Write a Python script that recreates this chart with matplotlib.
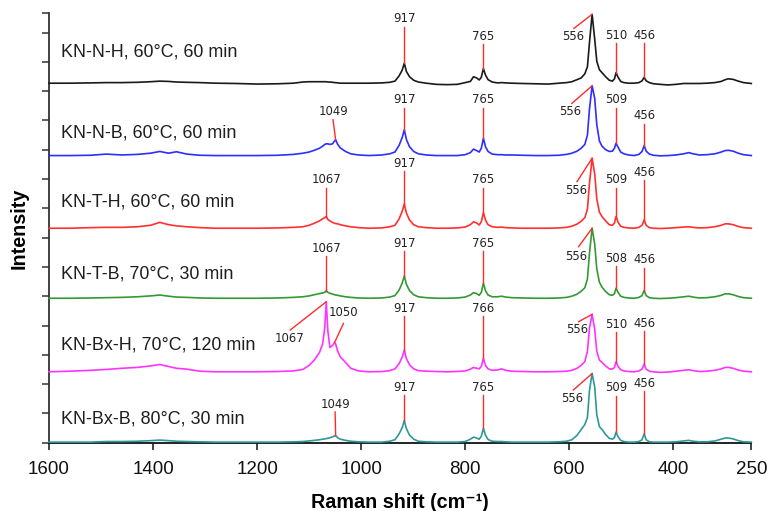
import numpy as np
import matplotlib
matplotlib.use("Agg")
import matplotlib.pyplot as plt

# Raman shift grid (cm-1)
shift = [1600, 1560, 1520, 1490, 1460, 1430, 1405, 1387, 1370, 1355,
         1335, 1310, 1280, 1240, 1200, 1160, 1130, 1112, 1100, 1090,
         1080, 1074, 1070, 1067, 1064, 1060, 1055, 1051, 1049, 1045,
         1040, 1030, 1020, 1005, 985, 960, 945, 935, 927, 921,
         917, 913, 907, 899, 890, 875, 855, 835, 815, 800,
         790, 784, 778, 773, 769, 765, 761, 756, 748, 738,
         730, 722, 710, 690, 665, 640, 620, 605, 595, 585,
         577, 570, 565, 561, 556, 551, 547, 542, 537, 530,
         523, 517, 513, 510, 506, 501, 495, 486, 475, 466,
         460, 456, 452, 446, 438, 425, 410, 395, 380, 370,
         362, 350, 335, 320, 308, 300, 294, 285, 275, 265,
         250]

# intensities relative to each spectrum's own baseline
kn_n_h = [0.00, 0.00, 0.01, 0.02, 0.02, 0.03, 0.05, 0.07, 0.06, 0.04,
          0.03, 0.02, 0.00, -0.01, -0.03, -0.02, 0.00, 0.04, 0.05, 0.05,
          0.05, 0.05, 0.05, 0.05, 0.04, 0.04, 0.03, 0.02, 0.02, 0.01,
          0.00, 0.00, 0.00, 0.00, 0.00, 0.01, 0.03, 0.07, 0.25, 0.45,
          0.68, 0.40, 0.22, 0.10, 0.04, 0.00, -0.04, -0.05, -0.04, 0.02,
          0.06, 0.22, 0.18, 0.11, 0.20, 0.50, 0.28, 0.12, 0.04, 0.01,
          0.02, 0.01, 0.00, -0.01, -0.02, -0.03, 0.00, 0.02, 0.05, 0.12,
          0.18, 0.32, 0.56, 1.40, 2.35, 1.50, 0.75, 0.46, 0.36, 0.22,
          0.10, 0.07, 0.15, 0.36, 0.20, 0.06, 0.02, 0.00, 0.00, 0.02,
          0.08, 0.20, 0.08, 0.02, -0.02, -0.04, -0.06, -0.04, -0.01, -0.01,
          -0.01, -0.01, 0.00, 0.02, 0.06, 0.12, 0.15, 0.13, 0.07, 0.02,
          -0.01]

kn_n_b = [0.00, 0.00, 0.01, 0.05, 0.02, 0.04, 0.08, 0.14, 0.08, 0.13,
          0.05, 0.01, 0.00, 0.00, 0.00, 0.01, 0.04, 0.08, 0.12, 0.18,
          0.25, 0.32, 0.38, 0.40, 0.40, 0.38, 0.40, 0.50, 0.54, 0.38,
          0.26, 0.14, 0.06, 0.02, 0.00, 0.02, 0.06, 0.12, 0.35, 0.62,
          0.88, 0.55, 0.30, 0.14, 0.06, 0.02, 0.00, 0.00, 0.00, 0.03,
          0.10, 0.22, 0.17, 0.12, 0.25, 0.59, 0.30, 0.14, 0.05, 0.03,
          0.03, 0.02, 0.02, 0.01, 0.00, 0.00, 0.01, 0.04, 0.08, 0.15,
          0.25, 0.38, 0.70, 1.60, 2.38, 1.95, 1.05, 0.50, 0.32, 0.20,
          0.14, 0.15, 0.25, 0.42, 0.28, 0.12, 0.06, 0.02, 0.00, 0.04,
          0.14, 0.34, 0.15, 0.05, 0.01, -0.01, 0.00, 0.02, 0.06, 0.10,
          0.06, 0.02, 0.03, 0.06, 0.12, 0.17, 0.18, 0.15, 0.08, 0.03,
          0.00]

kn_t_h = [0.00, 0.00, 0.02, 0.03, 0.03, 0.05, 0.10, 0.20, 0.12, 0.08,
          0.05, 0.02, 0.00, 0.00, 0.00, 0.01, 0.03, 0.05, 0.10, 0.17,
          0.25, 0.32, 0.36, 0.40, 0.30, 0.25, 0.20, 0.17, 0.16, 0.15,
          0.12, 0.08, 0.05, 0.02, 0.00, 0.01, 0.05, 0.10, 0.32, 0.58,
          0.83, 0.52, 0.28, 0.12, 0.05, 0.02, 0.00, 0.00, 0.01, 0.04,
          0.12, 0.22, 0.18, 0.11, 0.22, 0.53, 0.28, 0.12, 0.05, 0.03,
          0.04, 0.02, 0.01, 0.00, 0.00, 0.00, 0.01, 0.03, 0.07, 0.14,
          0.24, 0.36, 0.65, 1.55, 2.39, 1.85, 1.00, 0.55, 0.40, 0.25,
          0.12, 0.10, 0.18, 0.40, 0.20, 0.07, 0.03, 0.01, 0.00, 0.03,
          0.10, 0.28, 0.10, 0.02, 0.00, -0.01, 0.00, 0.02, 0.04, 0.05,
          0.03, 0.01, 0.02, 0.05, 0.10, 0.15, 0.15, 0.12, 0.06, 0.02,
          0.00]

kn_t_b = [0.00, 0.00, 0.01, 0.02, 0.03, 0.05, 0.08, 0.11, 0.07, 0.04,
          0.03, 0.01, 0.00, 0.00, 0.00, 0.01, 0.03, 0.05, 0.08, 0.12,
          0.16, 0.18, 0.20, 0.26, 0.20, 0.17, 0.14, 0.12, 0.11, 0.10,
          0.08, 0.05, 0.03, 0.01, 0.00, 0.01, 0.04, 0.09, 0.28, 0.52,
          0.76, 0.48, 0.26, 0.12, 0.05, 0.02, 0.00, 0.00, 0.01, 0.04,
          0.11, 0.19, 0.16, 0.10, 0.20, 0.51, 0.26, 0.11, 0.05, 0.05,
          0.07, 0.04, 0.02, 0.01, 0.00, 0.00, 0.01, 0.03, 0.07, 0.14,
          0.24, 0.36, 0.66, 1.55, 2.39, 1.85, 1.00, 0.55, 0.38, 0.23,
          0.12, 0.10, 0.16, 0.34, 0.20, 0.07, 0.03, 0.01, 0.00, 0.03,
          0.09, 0.26, 0.09, 0.02, 0.00, -0.01, 0.00, 0.02, 0.05, 0.07,
          0.04, 0.01, 0.02, 0.05, 0.10, 0.15, 0.15, 0.12, 0.06, 0.02,
          0.00]

kn_bx_h = [0.00, 0.02, 0.05, 0.08, 0.12, 0.15, 0.20, 0.25, 0.18, 0.12,
           0.09, 0.02, 0.00, 0.00, 0.00, 0.01, 0.03, 0.08, 0.22, 0.40,
           0.66, 0.95, 1.50, 2.39, 1.40, 0.83, 0.90, 1.00, 0.95, 0.70,
           0.51, 0.32, 0.12, 0.03, 0.00, 0.01, 0.04, 0.10, 0.28, 0.50,
           0.74, 0.45, 0.24, 0.10, 0.04, 0.02, 0.01, 0.00, 0.01, 0.03,
           0.09, 0.15, 0.12, 0.10, 0.18, 0.46, 0.22, 0.10, 0.05, 0.06,
           0.10, 0.05, 0.02, 0.01, 0.00, 0.00, 0.01, 0.02, 0.05, 0.12,
           0.22, 0.35, 0.70, 1.50, 1.96, 1.45, 0.70, 0.40, 0.32, 0.20,
           0.10, 0.09, 0.15, 0.34, 0.18, 0.07, 0.03, 0.01, 0.00, 0.03,
           0.09, 0.26, 0.09, 0.02, 0.00, -0.02, -0.01, 0.02, 0.05, 0.07,
           0.04, 0.01, 0.02, 0.05, 0.10, 0.15, 0.15, 0.12, 0.06, 0.02,
           0.00]

kn_bx_b = [0.02, 0.02, 0.02, 0.04, 0.04, 0.05, 0.07, 0.09, 0.07, 0.05,
           0.04, 0.03, 0.02, 0.02, 0.02, 0.02, 0.03, 0.04, 0.06, 0.08,
           0.10, 0.12, 0.13, 0.14, 0.15, 0.17, 0.20, 0.23, 0.24, 0.17,
           0.12, 0.08, 0.05, 0.03, 0.02, 0.02, 0.05, 0.10, 0.30, 0.52,
           0.75, 0.48, 0.26, 0.12, 0.05, 0.03, 0.02, 0.02, 0.02, 0.04,
           0.12, 0.19, 0.16, 0.12, 0.22, 0.49, 0.26, 0.11, 0.05, 0.04,
           0.04, 0.03, 0.02, 0.02, 0.02, 0.02, 0.03, 0.05, 0.10, 0.25,
           0.45, 0.62, 0.86, 1.80, 2.36, 1.90, 0.95, 0.55, 0.45, 0.28,
           0.15, 0.12, 0.18, 0.36, 0.20, 0.08, 0.04, 0.02, 0.02, 0.04,
           0.10, 0.30, 0.10, 0.03, 0.02, 0.02, 0.02, 0.03, 0.06, 0.08,
           0.05, 0.03, 0.03, 0.06, 0.12, 0.16, 0.16, 0.13, 0.07, 0.03,
           0.02]

sample_names = ["KN-N-H, 60°C, 60 min", "KN-N-B, 60°C, 60 min",
                "KN-T-H, 60°C, 60 min", "KN-T-B, 70°C, 30 min",
                "KN-Bx-H, 70°C, 120 min", "KN-Bx-B, 80°C, 30 min"]
spectra = [kn_n_h, kn_n_b, kn_t_h, kn_t_b, kn_bx_h, kn_bx_b]

# peak annotations: (peak position, label text)
peaks_n_h = [(917, "917"), (765, "765"), (556, "556"), (510, "510"), (456, "456")]
peaks_n_b = [(1049, "1049"), (917, "917"), (765, "765"), (556, "556"), (510, "509"), (456, "456")]
peaks_t_h = [(1067, "1067"), (917, "917"), (765, "765"), (556, "556"), (510, "509"), (456, "456")]
peaks_t_b = [(1067, "1067"), (917, "917"), (765, "765"), (556, "556"), (510, "508"), (456, "456")]
peaks_bx_h = [(1067, "1067"), (1051, "1050"), (917, "917"), (765, "766"), (556, "556"), (510, "510"), (456, "456")]
peaks_bx_b = [(1049, "1049"), (917, "917"), (765, "765"), (556, "556"), (510, "509"), (456, "456")]
peak_sets = [peaks_n_h, peaks_n_b, peaks_t_h, peaks_t_b, peaks_bx_h, peaks_bx_b]

# layout (positions) ---------------------------------------------------
offsets = [12.27, 9.80, 7.32, 4.93, 2.42, 0.0]
colors = ["#1a1a1a", "#2e2eff", "#ff3030", "#339933", "#ff33ff", "#2e9898"]
name_y = [1.05, 0.77, 0.90, 0.82, 0.91, 0.80]
# label placement per peak: (label x, label y above baseline, line start x, line start y)
label_pos = [
    [(917, 2.22, 917, 1.91), (765, 1.61, 765, 1.34), (592, 1.61, 591, 1.87),
     (510, 1.64, 510, 1.37), (456, 1.64, 456, 1.37)],
    [(1054, 1.50, 1054, 1.22), (917, 1.90, 917, 1.63), (765, 1.90, 765, 1.63),
     (598, 1.50, 595, 1.78), (510, 1.90, 510, 1.63), (456, 1.36, 456, 1.09)],
    [(1067, 1.65, 1067, 1.38), (917, 2.22, 917, 1.95), (765, 1.65, 765, 1.38),
     (586, 1.30, 585, 1.59), (510, 1.65, 510, 1.38), (456, 1.90, 456, 1.63)],
    [(1067, 1.71, 1067, 1.44), (917, 1.88, 917, 1.61), (765, 1.88, 765, 1.61),
     (586, 1.44, 582, 1.76), (510, 1.36, 510, 1.09), (456, 1.31, 456, 1.04)],
    [(1138, 1.14, 1136, 1.43), (1033, 2.03, 1034, 1.65), (917, 2.17, 917, 1.90),
     (765, 2.17, 765, 1.90), (585, 1.43, 582, 1.71), (510, 1.63, 510, 1.36),
     (456, 1.65, 456, 1.38)],
    [(1050, 1.32, 1050, 1.05), (917, 1.89, 917, 1.62), (765, 1.89, 765, 1.62),
     (594, 1.52, 592, 1.80), (510, 1.88, 510, 1.61), (456, 2.03, 456, 1.76)],
]

plt.rcParams["font.family"] = ["Liberation Sans", "DejaVu Sans"]

fig = plt.figure(figsize=(7.69, 5.11), dpi=100)
W, H = 769.0, 511.0
x0, x1, yb, yt = 49.0, 751.3, 442.7, 13.0
ax = fig.add_axes([x0 / W, 1 - yb / H, (x1 - x0) / W, (yb - yt) / H])

ytop = (yb - yt) / 29.3
ax.set_xlim(1600, 250)
ax.set_ylim(0, ytop)

sx = np.array(shift, dtype=float)
for spec, off, col in zip(spectra, offsets, colors):
    ax.plot(sx, np.array(spec) + off, color=col, lw=1.2, zorder=3, clip_on=False)

for name, off, ny in zip(sample_names, offsets, name_y):
    ax.text(1577, off + ny, name, fontsize=12.9, color="#1e1e1e",
            ha="left", va="center")

xr = sx[::-1]
for spec, off, peaks, lpos in zip(spectra, offsets, peak_sets, label_pos):
    yr = np.array(spec)[::-1]
    for (px, txt), (lx, ly, sx0, sy0) in zip(peaks, lpos):
        py = np.interp(px, xr, yr)
        ax.plot([sx0, px], [off + sy0, off + py], color="#ff2a2a", lw=1.0, zorder=4)
        ax.text(lx, off + ly, txt, fontsize=8.4, family="DejaVu Sans",
                color="#222222", ha="center", va="center", zorder=5)

ax.spines["top"].set_visible(False)
ax.spines["right"].set_visible(False)
ax.spines["left"].set_linewidth(1.3)
ax.spines["left"].set_color("#333333")
ax.spines["bottom"].set_linewidth(1.3)
ax.spines["bottom"].set_color("#111111")

xt = [1600, 1400, 1200, 1000, 800, 600, 400, 250]
ax.set_xticks(xt)
ax.set_xticklabels([str(v) for v in xt], fontsize=13.5)
ax.tick_params(axis="x", direction="out", length=5, width=1.1, pad=8, colors="#111111")
ax.set_yticks(list(range(0, 15)) + [ytop])
ax.set_yticklabels([])
ax.tick_params(axis="y", direction="out", length=5, width=1.1, colors="#333333")

ax.set_xlabel("Raman shift (cm⁻¹)", fontsize=14.2, fontweight="bold", labelpad=11)
ax.set_ylabel("Intensity", fontsize=14.2, fontweight="bold", labelpad=6)

fig.savefig("out.png", dpi=100)
